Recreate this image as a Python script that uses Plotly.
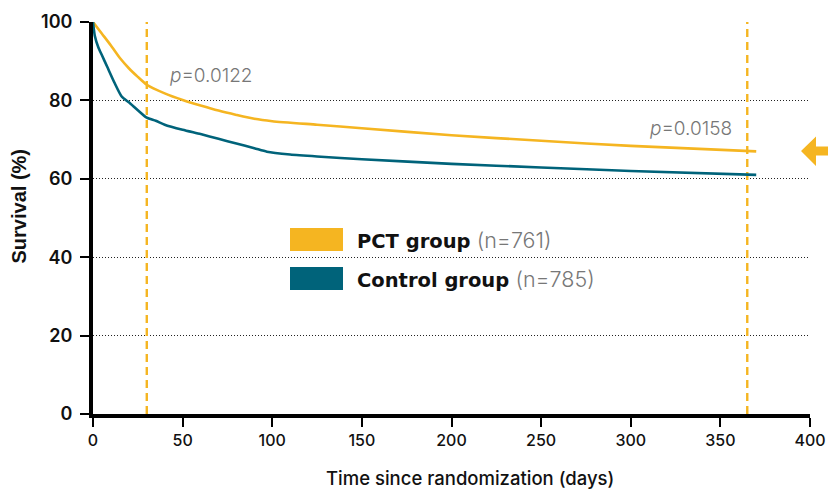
import plotly.graph_objects as go

# ---- data ----
pct_days = [0, 5, 10, 15, 20, 25, 30, 40, 50, 60, 70, 80, 90, 100, 125, 150, 200, 250, 300, 370]
pct_surv = [100, 97, 94, 90.8, 88.2, 86, 84, 81.8, 80.1, 78.7, 77.4, 76.3, 75.3, 74.7, 73.8, 72.9, 71.1, 69.7, 68.4, 67]
ctl_days = [0, 1, 3, 5, 8, 12, 16, 20, 25, 30, 35, 40, 50, 60, 70, 80, 90, 97, 110, 125, 150, 200, 250, 300, 370]
ctl_surv = [100, 96.5, 93.5, 91.5, 88.5, 84.5, 81, 79.5, 77.5, 75.6, 74.8, 73.8, 72.5, 71.4, 70.2, 69, 67.8, 66.9, 66.2, 65.7, 65, 63.8, 62.9, 62, 61]
landmark_days = [30, 365]
pvals = ["0.0122", "0.0158"]
x_ticks = [0, 50, 100, 150, 200, 250, 300, 350, 400]
y_ticks = [0, 20, 40, 60, 80, 100]
series_names = ["PCT group", "Control group"]
series_n = ["n=761", "n=785"]
x_title = "Time since randomization (days)"
y_title = "Survival (%)"

ORANGE = "#F5B521"
TEAL = "#00637A"
GREY = "#777777"

W, H = 828, 490
L, R, T, B = 93, 18, 22, 76
X0, X1 = L, W - R
Y0, Y1 = T, H - B
pw, ph = X1 - X0, Y1 - Y0

def px(xp):
    return (xp - X0) / pw

def py(yp):
    return (Y1 - yp) / ph

fig = go.Figure()
fig.add_trace(go.Scatter(x=pct_days, y=pct_surv, mode="lines",
                         line=dict(color=ORANGE, width=2.6, shape="spline", smoothing=0.6),
                         showlegend=False, hoverinfo="skip"))
fig.add_trace(go.Scatter(x=ctl_days, y=ctl_surv, mode="lines",
                         line=dict(color=TEAL, width=2.6, shape="spline", smoothing=0.6),
                         showlegend=False, hoverinfo="skip"))

shapes = []
for d in landmark_days:
    shapes.append(dict(type="line", xref="x", yref="y", x0=d, x1=d, y0=0, y1=100,
                       line=dict(color=ORANGE, width=2.4, dash="8px,5px"), layer="between"))

# white box behind legend hiding gridline
shapes.append(dict(type="rect", xref="paper", yref="paper",
                   x0=px(277), x1=px(602), y0=py(296), y1=py(222),
                   fillcolor="white", line=dict(width=0), layer="between"))
# legend swatches
shapes.append(dict(type="rect", xref="paper", yref="paper",
                   x0=px(290), x1=px(343), y0=py(251), y1=py(228),
                   fillcolor=ORANGE, line=dict(width=0), layer="above"))
shapes.append(dict(type="rect", xref="paper", yref="paper",
                   x0=px(290), x1=px(343), y0=py(290), y1=py(267),
                   fillcolor=TEAL, line=dict(width=0), layer="above"))
# arrow at right
pts = [(801, 151), (816, 136.5), (816, 146.5), (830, 146.5), (830, 155.5), (816, 155.5), (816, 166)]
path = "M " + " L ".join(f"{px(a):.5f},{py(b):.5f}" for a, b in pts) + " Z"
shapes.append(dict(type="path", xref="paper", yref="paper", path=path,
                   fillcolor=ORANGE, line=dict(width=0), layer="above"))

annotations = [
    dict(xref="paper", yref="paper", x=px(168), y=py(75), xanchor="left", yanchor="middle",
         text=f"<i>p</i>={pvals[0]}", showarrow=False,
         font=dict(family="Inter", size=19, color=GREY, weight=300)),
    dict(xref="paper", yref="paper", x=px(648), y=py(128), xanchor="left", yanchor="middle",
         text=f"<i>p</i>={pvals[1]}", showarrow=False,
         font=dict(family="Inter", size=19, color=GREY, weight=300)),
    dict(xref="paper", yref="paper", x=px(470), y=py(478), xanchor="center", yanchor="middle",
         text=x_title, showarrow=False,
         font=dict(family="Inter", size=18.5, color="#111111", weight=500)),
    dict(xref="paper", yref="paper", x=px(18.5), y=py(207), xanchor="center", yanchor="middle",
         text=y_title, showarrow=False, textangle=-90,
         font=dict(family="Liberation Sans", size=20, color="#111111", weight="bold")),
]
for name, n, yc in zip(series_names, series_n, [240, 279]):
    annotations.append(dict(xref="paper", yref="paper", x=px(355), y=py(yc),
                            xanchor="left", yanchor="middle", showarrow=False,
                            text=(f"<b>{name}</b> <span style='font-family:Inter;font-weight:300;"
                                  f"font-size:21.5px;color:{GREY}'>({n})</span>"),
                            font=dict(family="DejaVu Sans", size=19.5, color="#111111")))

fig.update_layout(
    width=W, height=H,
    margin=dict(l=L, r=R, t=T, b=B, autoexpand=False),
    plot_bgcolor="white", paper_bgcolor="white",
    shapes=shapes, annotations=annotations,
    font=dict(family="Inter", color="#111111"),
    xaxis=dict(range=[0, 400], tickvals=x_ticks, ticks="outside", ticklen=9, tickwidth=2,
               tickcolor="black", showgrid=False, zeroline=False, automargin=False,
               showline=True, linecolor="black", linewidth=4,
               tickfont=dict(size=16, family="Inter", color="#111111", weight=500)),
    yaxis=dict(range=[0, 100], tickvals=y_ticks, ticks="outside", ticklen=9, tickwidth=2,
               tickcolor="black", showgrid=True, gridcolor="#222222", griddash="1px,2px", gridwidth=1,
               zeroline=False, showline=True, linecolor="black", linewidth=4, automargin=False,
               ticklabelstandoff=4,
               tickfont=dict(size=18, family="Inter", color="#111111", weight=600)),
)

fig.write_html("out.html", config={"displayModeBar": False},
               post_script="document.body.style.margin='0';document.body.style.overflow='hidden';")
